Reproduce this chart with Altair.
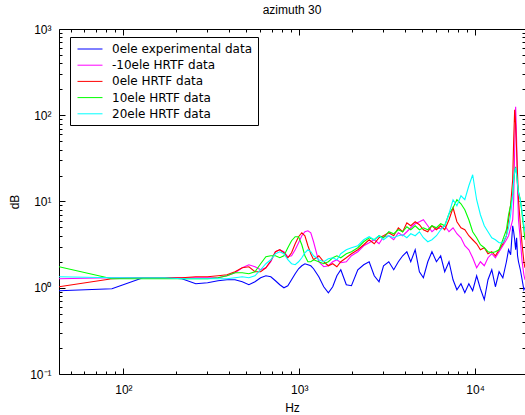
import altair as alt
import pandas as pd

FONT = "Liberation Sans"
LEG_FONT = "DejaVu Sans"

FREQ_HZ = [43, 86, 129, 172, 215, 258, 301, 345, 388, 431,
           474, 517, 560, 603, 646, 689, 732, 775, 818, 861,
           904, 948, 991, 1034, 1077, 1120, 1163, 1206, 1292, 1378,
           1464, 1550, 1637, 1723, 1852, 1981, 2153, 2326, 2498, 2670,
           2843, 3015, 3230, 3446, 3661, 3876, 4092, 4307, 4565, 4824,
           5082, 5384, 5685, 6030, 6374, 6719, 7107, 7494, 7882, 8313,
           8743, 9217, 9691, 10208, 10724, 11284, 11844, 12447, 13050, 13696,
           14385, 15075, 15505, 15936, 16367, 16582, 16797, 17013, 17228, 17443,
           17659, 18089, 18520, 18951, 19209]

EXP_0ELE = [0.923, 0.974, 1.306, 1.306, 1.272, 1.113, 1.143, 1.206, 1.238, 1.238,
            1.174, 1.083, 1.174, 1.306, 1.377, 1.341, 1.206, 1.083, 1.000, 1.055,
            1.238, 1.453, 1.661, 1.799, 1.898, 1.848, 1.799, 1.661, 1.341, 1.027,
            0.875, 1.027, 1.377, 1.617, 1.083, 1.055, 1.617, 1.848, 2.002, 1.377,
            1.174, 1.799, 2.002, 1.617, 2.002, 2.350, 2.615, 2.002, 2.758, 1.533,
            1.306, 2.002, 2.615, 2.002, 2.350, 1.533, 2.002, 1.238, 0.948, 1.113,
            0.875, 1.113, 0.923, 1.377, 0.974, 0.726, 1.238, 1.617, 1.027, 1.533,
            1.306, 2.002, 2.758, 2.414, 5.233, 4.459, 3.602, 2.758, 3.799, 2.350,
            2.002, 1.617, 1.238, 0.948, 1.000]

HRTF_M10 = [1.272, 1.306, 1.306, 1.306, 1.306, 1.306, 1.306, 1.306, 1.377, 1.492,
            1.706, 1.848, 1.752, 1.617, 1.706, 2.002, 2.615, 2.758, 2.615, 2.288,
            2.350, 2.758, 3.325, 4.008, 4.459, 4.579, 4.341, 3.415, 2.002, 1.752,
            1.799, 2.002, 2.112, 1.949, 2.002, 2.350, 2.615, 3.069, 3.325, 3.602,
            3.237, 3.902, 4.008, 3.602, 4.341, 4.008, 4.459, 4.961, 5.520, 5.822,
            6.141, 5.233, 4.459, 4.961, 4.830, 5.233, 4.459, 4.961, 4.227, 3.799,
            3.069, 2.758, 2.228, 1.706, 2.002, 1.799, 2.228, 2.479, 2.228, 2.615,
            3.069, 3.602, 4.008, 4.961, 6.141, 10.48, 39.8, 125.5, 52.0, 13.69,
            6.141, 3.602, 2.002, 1.415, 1.238]

HRTF_0 = [1.027, 1.272, 1.306, 1.306, 1.306, 1.341, 1.341, 1.377, 1.415, 1.533,
          1.706, 1.752, 1.533, 1.533, 1.706, 2.056, 2.615, 2.758, 2.546, 2.228,
          2.546, 3.237, 3.902, 4.341, 4.008, 3.069, 2.479, 2.112, 2.350, 2.002,
          1.799, 1.898, 1.752, 2.002, 2.228, 2.479, 2.758, 3.152, 3.602, 3.237,
          3.799, 4.008, 4.341, 4.008, 4.961, 4.459, 5.669, 5.233, 5.822, 5.374,
          4.703, 4.459, 5.233, 4.703, 5.233, 4.703, 6.141, 8.465, 5.822, 4.961,
          4.703, 4.008, 3.602, 3.237, 2.758, 2.909, 2.479, 2.615, 2.350, 2.758,
          3.237, 4.008, 6.141, 9.170, 17.87, 52.0, 115.8, 77.6, 39.8, 20.42,
          10.48, 5.374, 3.152, 2.002, 1.706]

HRTF_10 = [1.752, 1.272, 1.272, 1.272, 1.272, 1.272, 1.272, 1.306, 1.377, 1.492,
           1.492, 1.453, 1.533, 1.898, 2.288, 2.350, 2.350, 2.228, 2.350, 2.909,
           3.507, 3.902, 3.902, 3.152, 2.350, 2.002, 2.002, 2.112, 2.002, 1.898,
           2.002, 2.228, 2.350, 2.228, 2.479, 2.615, 2.909, 3.415, 3.799, 3.602,
           4.008, 3.799, 4.459, 4.227, 4.703, 4.459, 5.095, 4.703, 5.233, 4.703,
           4.961, 4.703, 5.233, 4.961, 5.520, 5.233, 7.211, 8.465, 10.48, 9.417,
           8.024, 6.141, 4.459, 3.799, 3.152, 2.909, 2.615, 2.546, 2.615, 2.758,
           3.602, 4.703, 7.022, 9.170, 11.98, 17.87, 22.13, 25.29, 20.42, 15.64,
           12.97, 10.48, 7.022, 4.703, 3.602]

HRTF_20 = [1.341, 1.306, 1.306, 1.306, 1.272, 1.272, 1.272, 1.272, 1.272, 1.306,
           1.341, 1.306, 1.377, 1.617, 1.898, 2.112, 2.479, 2.615, 2.479, 2.112,
           1.898, 1.848, 2.002, 2.228, 2.546, 2.758, 2.615, 2.350, 2.112, 2.002,
           2.169, 2.228, 2.112, 2.479, 2.758, 2.909, 3.069, 3.602, 3.902, 3.602,
           4.008, 3.602, 4.008, 3.799, 4.008, 4.116, 3.799, 4.227, 4.008, 4.459,
           3.799, 3.415, 3.602, 4.008, 4.703, 5.233, 7.211, 10.48, 8.928, 11.66,
           10.48, 15.23, 20.42, 10.48, 7.022, 5.233, 4.459, 3.799, 3.602, 3.325,
           3.325, 4.008, 4.961, 7.022, 11.98, 17.87, 22.13, 24.62, 20.42, 15.64,
           12.63, 10.48, 7.61, 5.374, 4.459]

SERIES = ["0ele experimental data", "-10ele HRTF data", "0ele HRTF data",
          "10ele HRTF data", "20ele HRTF data"]
COLORS = ["#0000ff", "#ff00ff", "#ff0000", "#00ff00", "#00ffff"]
VALUES = [EXP_0ELE, HRTF_M10, HRTF_0, HRTF_10, HRTF_20]

X_MAJOR = [100, 1000, 10000]
X_TICKS = [50, 60, 70, 80, 90, 100, 200, 300, 400, 500, 600, 700, 800, 900,
           1000, 2000, 3000, 4000, 5000, 6000, 7000, 8000, 9000, 10000]
Y_MAJOR = [0.1, 1, 10, 100, 1000]
Y_TICKS = [0.1, 0.2, 0.3, 0.4, 0.5, 0.6, 0.7, 0.8, 0.9,
           1, 2, 3, 4, 5, 6, 7, 8, 9,
           10, 20, 30, 40, 50, 60, 70, 80, 90,
           100, 200, 300, 400, 500, 600, 700, 800, 900, 1000]

rows = []
for name, vals in zip(SERIES, VALUES):
    for f, v in zip(FREQ_HZ, vals):
        rows.append({"series": name, "freq": f, "mag": v})
df = pd.DataFrame(rows)

W, H = 466, 345

xs = alt.Scale(type="log", domain=[43, 19230], nice=False)
ys = alt.Scale(type="log", domain=[0.1, 1000], nice=False)

MAJOR_TEST = "abs(log(datum.value)/LN10 - round(log(datum.value)/LN10)) < 0.001"
TICK_SIZE = {"condition": {"test": MAJOR_TEST, "value": 6}, "value": 3}

x_lab_expr = ("datum.value < 500 ? '10\u00b2' : datum.value < 5000 ? '10\u00b3' : '10\u2074'")
y_lab_expr = ("datum.value < 0.5 ? '10\u207b\u00b9' : datum.value < 5 ? '10\u2070' : "
              "datum.value < 50 ? '10\u00b9' : datum.value < 500 ? '10\u00b2' : '10\u00b3'")

lab_x = alt.Axis(orient="bottom", values=X_MAJOR, labelExpr=x_lab_expr, ticks=False,
                 tickSize=0, domain=False, grid=False, labelPadding=10, labelFont=FONT,
                 labelFontSize=12, labelColor="black", labelFlush=False,
                 title="Hz", titleFont=FONT, titleFontSize=12, titleFontWeight="normal",
                 titleColor="black", titleY=33, titleBaseline="middle")
lab_y = alt.Axis(orient="left", values=Y_MAJOR, labelExpr=y_lab_expr, ticks=False,
                 tickSize=0, domain=False, grid=False, labelPadding=8, labelFont=FONT,
                 labelFontSize=12, labelColor="black", labelFlush=False,
                 title="dB", titleFont=FONT, titleFontSize=12, titleFontWeight="normal",
                 titleColor="black", titleX=-45, titleBaseline="middle")


def tick_axis(orient, offset, values):
    return alt.Axis(orient=orient, offset=offset, values=values, labels=False,
                    domain=False, grid=False, ticks=True, tickSize=TICK_SIZE,
                    tickColor="black", tickWidth=1, title=None)


base = alt.Chart(df)

lines = base.mark_line(strokeWidth=1.1, clip=True).encode(
    x=alt.X("freq:Q", scale=xs, axis=lab_x),
    y=alt.Y("mag:Q", scale=ys, axis=lab_y),
    color=alt.Color("series:N", scale=alt.Scale(domain=SERIES, range=COLORS),
                    legend=alt.Legend(title=None, orient="none", legendX=11, legendY=8,
                                      symbolType="M-2,0H2", symbolSize=156,
                                      symbolStrokeWidth=1, labelFont=LEG_FONT,
                                      labelFontSize=12, labelColor="black",
                                      fillColor="white", strokeColor="black",
                                      padding=5, rowPadding=3.2, symbolOffset=8,
                                      labelOffset=15, labelLimit=400)),
)

ticks_a = base.mark_point(opacity=0, clip=True).encode(
    x=alt.X("freq:Q", scale=xs, axis=tick_axis("top", -H, X_TICKS)),
    y=alt.Y("mag:Q", scale=ys, axis=tick_axis("right", -W, Y_TICKS)),
)
ticks_b = base.mark_point(opacity=0, clip=True).encode(
    x=alt.X("freq:Q", scale=xs, axis=tick_axis("bottom", -H, X_TICKS)),
    y=alt.Y("mag:Q", scale=ys, axis=tick_axis("left", -W, Y_TICKS)),
)

chart = alt.layer(lines, ticks_a, ticks_b).resolve_axis(
    x="independent", y="independent"
).properties(
    width=W, height=H,
    autosize=alt.AutoSizeParams(type="none"),
    padding={"left": 59, "top": 29, "right": 0, "bottom": 41},
    title=alt.TitleParams("azimuth 30", font=FONT, fontSize=12, fontWeight="normal",
                          color="black", anchor="middle", frame="group", offset=6),
    background="white",
).configure_view(stroke="black", strokeWidth=1)

chart.save("out.html", embed_options={"renderer": "svg", "actions": False})
